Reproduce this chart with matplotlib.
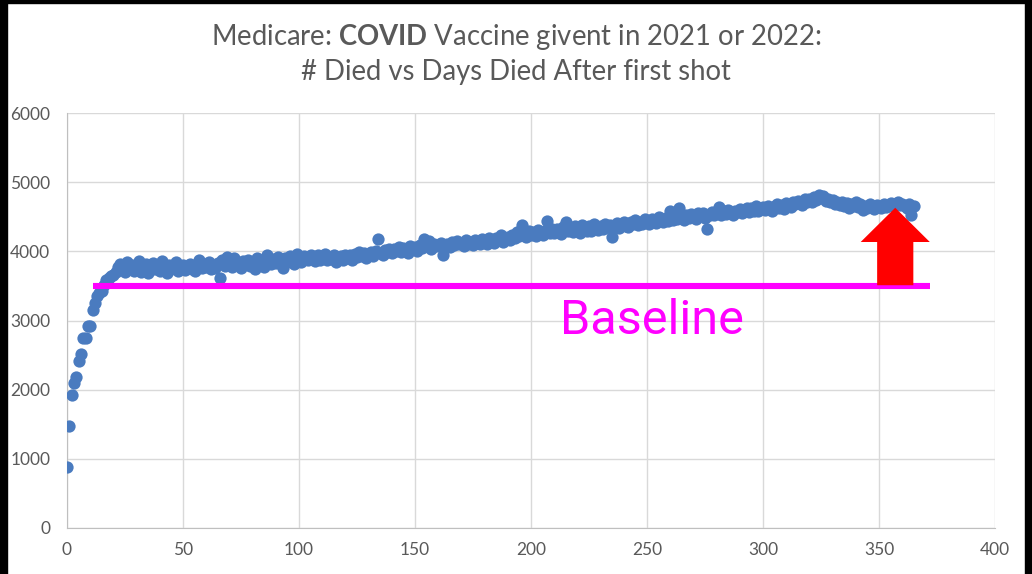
import matplotlib.pyplot as plt
from matplotlib.patches import Polygon, Rectangle
import numpy as np

plt.rcParams['font.family'] = ['Lato', 'DejaVu Sans']
plt.rcParams['mathtext.fontset'] = 'custom'
plt.rcParams['mathtext.rm'] = 'Lato'
plt.rcParams['mathtext.bf'] = 'Lato:bold'

# number died per day after first shot
died = [
    880, 1470, 1930, 2100, 2190, 2420, 2520, 2740, 2750, 2920,
    2920, 3150, 3260, 3350, 3400, 3420, 3520, 3580, 3610, 3650,
    3660, 3700,
    3780, 3820, 3740, 3700, 3850, 3760, 3800, 3720,
    3790, 3860, 3700, 3750, 3810, 3680, 3770, 3830, 3740, 3790,
    3720, 3860, 3760, 3690, 3800, 3740, 3780, 3840, 3710, 3760,
    3800, 3730, 3770, 3820, 3750, 3710, 3790, 3870, 3760, 3820,
    3780, 3850, 3740, 3800, 3760, 3830, 3620, 3880, 3790, 3920,
    3850, 3770, 3900, 3820, 3800, 3760, 3860, 3810, 3880, 3790,
    3840, 3750, 3900, 3820, 3870, 3780, 3940, 3850, 3810, 3890,
    3830, 3920, 3870, 3760, 3900, 3850, 3930, 3880, 3820, 3960,
    3890, 3850, 3930, 3900, 3870, 3950, 3910, 3860, 3940, 3880,
    3900, 3960, 3870, 3920, 3890, 3940, 3850, 3910, 3930, 3880,
    3950, 3900, 3940, 3870, 3960, 3920, 3990, 3930, 3970, 3900,
    3960, 3990, 3930, 4010, 4180, 3980, 3950, 4020, 3990, 4040,
    3970, 4030, 4000, 4060, 3990, 4050, 4020, 3980, 4070, 4030,
    4060, 4010, 4090, 4050, 4180, 4080, 4150, 4040, 4100, 4070,
    4090, 4120, 3950, 4080, 4110, 4060, 4130, 4090, 4150, 4100,
    4120, 4080, 4160, 4110, 4140, 4090, 4170, 4130, 4110, 4180,
    4140, 4100, 4190, 4150, 4120, 4200, 4160, 4230, 4140, 4190,
    4210, 4170, 4240, 4190, 4280, 4220, 4380, 4250, 4210, 4300,
    4240, 4280, 4220, 4310, 4260, 4230, 4290, 4440, 4270, 4320,
    4270, 4330, 4290, 4250, 4350, 4420, 4300, 4340, 4280, 4360,
    4310, 4270, 4380, 4330, 4300, 4360, 4290, 4390, 4340, 4310,
    4370, 4330, 4400, 4350, 4380, 4210, 4360, 4410, 4340, 4390,
    4420, 4370, 4350, 4430, 4390, 4460, 4380, 4420, 4400, 4470,
    4430, 4390, 4470, 4440, 4410, 4500, 4450, 4420, 4480, 4440,
    4590, 4460, 4510, 4470, 4630, 4490, 4450, 4520, 4480, 4540,
    4500, 4470, 4550, 4510, 4560, 4480, 4320, 4530, 4570, 4520,
    4550, 4640, 4530, 4580, 4540, 4600, 4560, 4520, 4590, 4570,
    4610, 4560, 4590, 4630, 4570, 4620, 4590, 4650, 4580, 4610,
    4640, 4600, 4660, 4620, 4580, 4650, 4690, 4630, 4670, 4610,
    4700, 4660, 4640, 4720, 4680, 4730, 4700, 4670, 4750, 4720,
    4760, 4710, 4790, 4740, 4810, 4770, 4800, 4730, 4760, 4720,
    4740, 4690, 4710, 4670, 4720, 4650, 4700, 4620, 4690, 4660,
    4710, 4640, 4680, 4600, 4660, 4630, 4690, 4640, 4610, 4670,
    4650, 4620, 4680, 4640, 4660, 4700, 4650, 4680, 4710, 4670,
    4690, 4650, 4620, 4680, 4530, 4660,
]
days = list(range(len(died)))

x_ticks = [0, 50, 100, 150, 200, 250, 300, 350, 400]
y_ticks = [0, 1000, 2000, 3000, 4000, 5000, 6000]

baseline_value = 3500
baseline_days = [11, 372]

gray = '#595959'

fig = plt.figure(figsize=(10.32, 5.74), dpi=100)
ax = fig.add_axes([67 / 1032, 46 / 574, 928 / 1032, 415 / 574])

ax.scatter(days, died, s=78, color='#4A7BBF', linewidths=0, zorder=3)
ax.plot(baseline_days, [baseline_value, baseline_value], color='#FF00FF',
        lw=4.4, solid_capstyle='butt', zorder=4)

# red block arrow pointing up from the baseline
tip_x, tip_y = 357, 4630
head_y = 4135
head_w, shaft_w = 14.9, 7.8
arrow = Polygon([(tip_x - shaft_w, 3510), (tip_x + shaft_w, 3510),
                 (tip_x + shaft_w, head_y), (tip_x + head_w, head_y),
                 (tip_x, tip_y), (tip_x - head_w, head_y),
                 (tip_x - shaft_w, head_y)],
                closed=True, color='#FF0000', lw=0, zorder=5)
ax.add_patch(arrow)

ax.text(252, 3000, 'Baseline', color='#FF00FF', fontsize=35,
        family=['Roboto', 'DejaVu Sans'], ha='center', va='center', zorder=6)

ax.set_xlim(0, 400)
ax.set_ylim(0, 6000)
ax.set_xticks(x_ticks)
ax.set_yticks(y_ticks)
ax.grid(True, color='#D9D9D9', lw=1)
ax.set_axisbelow(True)
for s in ax.spines.values():
    s.set_visible(False)
ax.spines['left'].set_visible(True)
ax.spines['bottom'].set_visible(True)
ax.spines['left'].set_color('#BFBFBF')
ax.spines['bottom'].set_color('#BFBFBF')
ax.tick_params(axis='both', length=0, labelsize=12.5, labelcolor=gray)
ax.tick_params(axis='y', pad=12)
ax.tick_params(axis='x', pad=10)

fig.text(516 / 1032, 1 - 37 / 574, r'Medicare: $\mathbf{COVID}$ Vaccine givent in 2021 or 2022:',
         ha='center', va='center', fontsize=19.8, color=gray)
fig.text(516 / 1032, 1 - 72 / 574, '# Died vs Days Died After first shot',
         ha='center', va='center', fontsize=19.8, color=gray)

# black border from the screenshot
fig.patches.append(Rectangle((0, 0), 7 / 1032, 1, transform=fig.transFigure,
                             color='black', zorder=0))
fig.patches.append(Rectangle((0, 1 - 3 / 574), 1, 3 / 574, transform=fig.transFigure,
                             color='black', zorder=0))
fig.patches.append(Rectangle((1025 / 1032, 0), 7 / 1032, 1, transform=fig.transFigure,
                             color='black', zorder=0))

fig.savefig('out.png', dpi=100)
